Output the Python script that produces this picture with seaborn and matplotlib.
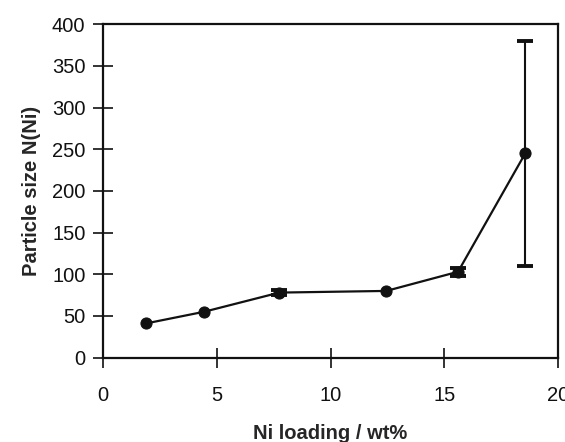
import pandas as pd
import matplotlib
matplotlib.use('Agg')
import matplotlib.pyplot as plt
import seaborn as sns

ni_loading = [1.9, 4.45, 7.75, 12.45, 15.6, 18.55]
particle_size = [41, 55, 78, 80, 103, 245]
size_err = [0, 0, 3, 0, 5, 135]

df = pd.DataFrame({'Ni': ni_loading, 'Size': particle_size, 'Err': size_err})

sns.set_style("ticks")
plt.rcParams['font.family'] = ['Liberation Sans', 'DejaVu Sans']

fig = plt.figure(figsize=(5.65, 4.42), dpi=100)
ax = fig.add_axes([0.182, 0.191, 0.806, 0.754])

sns.lineplot(x='Ni', y='Size', data=df, ax=ax, color='#111111', linewidth=1.6,
             marker='o', markersize=8, markeredgecolor='#111111')
eb = df[df['Err'] > 0]
ax.errorbar(eb['Ni'], eb['Size'], yerr=eb['Err'], fmt='none', ecolor='#111111',
            elinewidth=1.5, capsize=6, capthick=2.8)

ax.set_xlim(0, 20)
ax.set_ylim(0, 400)
ax.set_xticks([0, 5, 10, 15, 20])
ax.set_yticks(range(0, 401, 50))
ax.tick_params(direction='inout', length=15, width=1.2, labelsize=14.5, colors='#111111', pad=5)
ax.tick_params(axis='x', pad=13)
for s in ax.spines.values():
    s.set_linewidth(1.6)
    s.set_color('#111111')

ax.set_xlabel('Ni loading / wt%', fontsize=14.5, fontweight='bold', labelpad=14)
ax.set_ylabel('Particle size N(Ni)', fontsize=14.5, fontweight='bold', labelpad=8)

fig.savefig('out.png', dpi=100)
